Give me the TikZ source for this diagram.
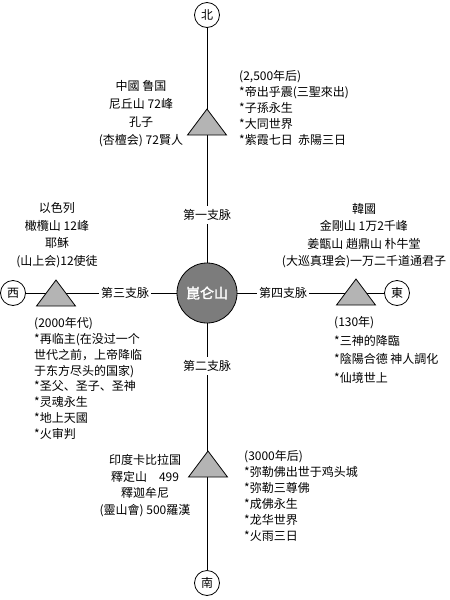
\documentclass[tikz,border=0pt]{standalone}
\usepackage{fontspec}
\setmainfont{Noto Sans CJK SC}
\newfontfamily\hubfont[FakeBold=2]{Noto Sans CJK SC}
\usetikzlibrary{positioning}
\definecolor{trigray}{HTML}{B4B4B4}
\definecolor{hubgray}{HTML}{7C7C7C}

\begin{document}
\begin{tikzpicture}[
  x=1pt,y=-1pt,
  font=\fontsize{12}{16}\selectfont,
  ln/.style={line width=0.8pt},
  dir/.style={ln,draw,circle,fill=white,minimum size=25pt,inner sep=0pt},
  hub/.style={ln,draw,circle,fill=hubgray,minimum size=60pt,inner sep=0pt,
              text=white,font=\hubfont\fontsize{14}{14}\selectfont},
  tri/.style={ln,draw,fill=trigray},
  branch/.style={fill=white,inner xsep=2pt,inner ysep=3pt},
  blk/.style={inner sep=0pt,align=left,anchor=north west,font=\fontsize{12}{#1}\selectfont},
  blk/.default=16,
  ctr/.style={blk=#1,align=center,anchor=north},
  ctr/.default=18
]
\useasboundingbox (0,0) rectangle (450,600);

% hub and the four directions
\node[hub] (hub) at (207,293) {崑仑山};
\node[dir] (n) at (207,15)  {北};
\node[dir] (s) at (207,583) {南};
\node[dir] (w) at (13,293)  {西};
\node[dir] (e) at (397,293) {東};

\draw[ln] (n) -- (hub);
\draw[ln] (hub) -- (s);
\draw[ln] (w) -- (hub);
\draw[ln] (hub) -- (e);

% mountains (base centres)
\coordinate (nt) at (207,135);
\coordinate (st) at (208,477);
\coordinate (wt) at (56,306);
\coordinate (et) at (356,305);
\foreach \p in {nt,st,wt,et}
  \filldraw[tri] (\p) ++(-19.5,0) -- ++(39,0) -- ++(-19.5,-26) -- cycle;

% branches
\node[branch] (b1) at (207,215) {第一支脉};
\node[branch] (b2) at (207,366) {第二支脉};
\node[branch] (b3) at (125,293) {第三支脉};
\node[branch] (b4) at (283,293) {第四支脉};

% north
\node[ctr=18] (nl) at (141,80) {中國\ 鲁国\\尼丘山 72峰\\孔子\\(杏檀会) 72賢人};
\node[blk=16] (nr) at (239,70)
  {(2,500年后)\\*帝出乎震(三聖來出)\\*子孫永生\\*大同世界\\*紫霞七日\ \ 赤陽三日};

% west
\node[ctr=17.7] (wl) at (57,202) {以色列\\橄欖山 12峰\\耶稣\\(山上会)12使徒};
\node[blk=15.9] (wr) at (34,317)
  {(2000年代)\\*再临主(在没过一个\\世代之前，上帝降临\\于东方尽头的国家)\\*圣父、圣子、圣神\\*灵魂永生\\*地上天國\\*火审判};

% east
\node[ctr=17.5] (el) at (364,203)
  {韓國\\金剛山 1万2千峰\\姜甑山 趙鼎山 朴牛堂\\(大巡真理会)一万二千道通君子};
\node[blk=18.7] (er) at (334,316) {(130年)\\*三神的降臨\\*陰陽合德\ 神人調化\\*仙境世上};

% south
\node[ctr=16.7] (sl) at (145,454) {印度卡比拉国\\釋定山\quad 499\\釋迦牟尼\\(靈山會) 500羅漢};
\node[blk=16] (sr) at (244,450)
  {(3000年后)\\*弥勒佛出世于鸡头城\\*弥勒三尊佛\\*成佛永生\\*龙华世界\\*火雨三日};
\end{tikzpicture}
\end{document}
